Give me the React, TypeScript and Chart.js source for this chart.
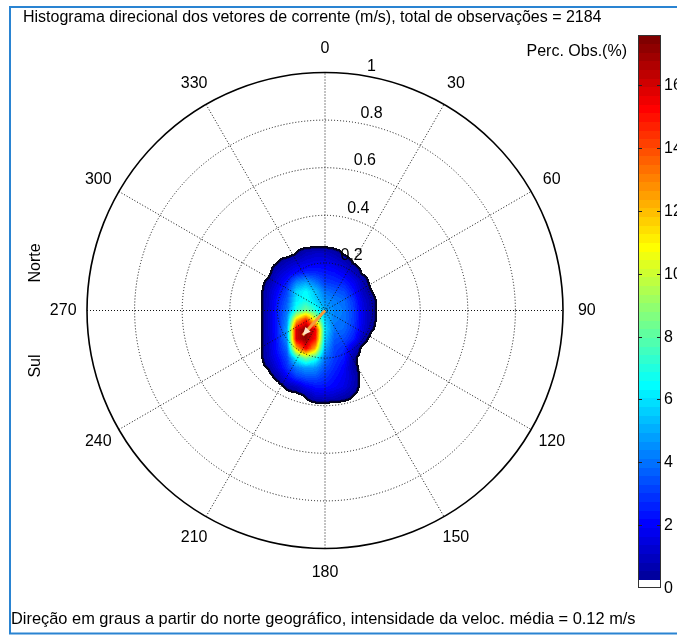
import React, { useEffect, useRef } from "react";
import { Chart, registerables } from "chart.js";

Chart.register(...registerables);

const TITLE = "Histograma direcional dos vetores de corrente (m/s), total de observações = 2184";
const FOOTER = "Direção em graus a partir do norte geográfico, intensidade da veloc. média = 0.12 m/s";
const SIDE_TOP = "Norte";
const SIDE_BOTTOM = "Sul";
const COLORBAR_TITLE = "Perc. Obs.(%)";

const ANGLE_DEGREES = [0, 30, 60, 90, 120, 150, 180, 210, 240, 270, 300, 330];
const ANGLE_LABELS = ["0", "30", "60", "90", "120", "150", "180", "210", "240", "270", "300", "330"];
const RING_VALUES = [0.2, 0.4, 0.6, 0.8, 1];
const RING_LABELS = ["0.2", "0.4", "0.6", "0.8", "1"];

// velocity grid (m/s): u = east component (columns), v = north component (rows)
const GRID_U = [-0.28, -0.24, -0.2, -0.16, -0.12, -0.08, -0.04, 0, 0.04, 0.08, 0.12, 0.16, 0.2, 0.24];
const GRID_V = [0.28, 0.24, 0.2, 0.16, 0.12, 0.08, 0.04, 0, -0.04, -0.08, -0.12, -0.16, -0.2, -0.24, -0.28, -0.32, -0.36, -0.4];
// percentage of observations per cell
const DENSITY = [
  [0, 0, 0, 0, 0, 0, 0, 0, 0, 0, 0, 0, 0, 0],
  [0, 0, 0, 0, 0.35, 0.9, 1.1, 1.1, 0.7, 0.25, 0, 0, 0, 0],
  [0, 0, 0.35, 0.9, 1.3, 1.6, 1.8, 1.8, 1.5, 1.0, 0.3, 0, 0, 0],
  [0, 0.1, 1.0, 1.6, 2.2, 2.6, 2.6, 2.4, 2.2, 1.8, 1.0, 0.2, 0, 0],
  [0, 0.5, 1.5, 2.4, 4.2, 4.8, 4.0, 3.0, 2.8, 2.5, 1.8, 0.8, 0, 0],
  [0, 0.9, 2.0, 3.2, 5.8, 6.5, 5.4, 4.0, 3.6, 3.3, 2.3, 1.0, 0.3, 0],
  [0, 1.0, 2.4, 3.6, 6.2, 6.8, 5.8, 4.6, 4.2, 3.9, 2.9, 1.4, 0.5, 0],
  [0, 1.0, 2.6, 4.0, 7.0, 8.5, 7.0, 5.0, 4.4, 4.1, 3.1, 1.6, 0.5, 0],
  [0, 1.0, 2.6, 4.4, 12.0, 15.0, 10.5, 5.5, 4.2, 4.0, 3.1, 1.6, 0.5, 0],
  [0, 1.0, 2.6, 4.8, 16.0, 17.6, 15.5, 6.0, 4.0, 3.8, 2.9, 1.5, 0.35, 0],
  [0, 1.0, 2.5, 4.5, 16.0, 17.2, 15.0, 5.5, 3.6, 3.3, 2.5, 0.7, 0, 0],
  [0, 1.0, 2.4, 3.8, 12.0, 15.5, 12.0, 4.8, 3.2, 2.8, 1.2, 0.1, 0, 0],
  [0, 0.9, 2.0, 3.2, 6.5, 8.5, 7.0, 4.0, 3.0, 2.4, 0.5, 0, 0, 0],
  [0, 0.4, 1.5, 2.8, 4.2, 4.8, 4.6, 3.4, 2.7, 2.0, 0.6, 0, 0, 0],
  [0, 0, 0.6, 1.9, 3.0, 3.4, 3.4, 2.9, 2.3, 1.8, 1.0, 0, 0, 0],
  [0, 0, 0, 0.5, 1.0, 1.9, 2.3, 2.3, 2.0, 1.6, 0.8, 0, 0, 0],
  [0, 0, 0, 0, 0, 0.4, 1.2, 1.3, 1.1, 0.7, 0.3, 0, 0, 0],
  [0, 0, 0, 0, 0, 0, 0, 0, 0, 0, 0, 0, 0, 0],
];

const MEAN_DIRECTION_DEG = 222;
const MEAN_ARROW_LENGTH = 0.14;

const CB_MAX = 17.6;
const CB_TICKS = [0, 2, 4, 6, 8, 10, 12, 14, 16];

const FONT = '"Liberation Sans", Arial, Helvetica, sans-serif';

function buildJet(): number[][] {
  const m = 64;
  const n = 16;
  const u: number[] = [];
  for (let i = 1; i <= n; i++) u.push(i / n);
  for (let i = 0; i < n - 1; i++) u.push(1);
  for (let i = n; i >= 1; i--) u.push(i / n);
  const J = Array.from({ length: m }, () => [0, 0, 0]);
  const g0 = Math.ceil(n / 2) - (m % 4 === 1 ? 1 : 0);
  for (let k = 0; k < u.length; k++) {
    const g = g0 + k + 1;
    const r = g + n;
    const b = g - n;
    if (r >= 1 && r <= m) J[r - 1][0] = u[k];
    if (g >= 1 && g <= m) J[g - 1][1] = u[k];
    if (b >= 1 && b <= m) J[b - 1][2] = u[k];
  }
  const out = J.map((c) => [Math.round(c[0] * 255), Math.round(c[1] * 255), Math.round(c[2] * 255)]);
  out[0] = [255, 255, 255];
  return out;
}
const JET = buildJet();

function sampleDensity(u: number, v: number): number {
  const du = GRID_U[1] - GRID_U[0];
  const dv = GRID_V[0] - GRID_V[1];
  const fi = (u - GRID_U[0]) / du;
  const fj = (GRID_V[0] - v) / dv;
  const nc = GRID_U.length;
  const nr = GRID_V.length;
  if (fi < 0 || fj < 0 || fi > nc - 1 || fj > nr - 1) return 0;
  const i0 = Math.min(nc - 2, Math.floor(fi));
  const j0 = Math.min(nr - 2, Math.floor(fj));
  const tx = fi - i0;
  const ty = fj - j0;
  const a = DENSITY[j0][i0];
  const b = DENSITY[j0][i0 + 1];
  const c = DENSITY[j0 + 1][i0];
  const d = DENSITY[j0 + 1][i0 + 1];
  return a * (1 - tx) * (1 - ty) + b * tx * (1 - ty) + c * (1 - tx) * ty + d * tx * ty;
}

const polarPlugin = {
  id: "polarRose",
  beforeDraw(chart: any) {
    const ctx = chart.ctx as CanvasRenderingContext2D;
    ctx.save();
    ctx.fillStyle = "#fff";
    ctx.fillRect(0, 0, chart.width, chart.height);

    // frame
    ctx.strokeStyle = "#2a84d2";
    ctx.lineWidth = 2;
    ctx.beginPath();
    ctx.moveTo(chart.width + 5, 7);
    ctx.lineTo(10, 7);
    ctx.lineTo(10, 633.5);
    ctx.lineTo(chart.width + 5, 633.5);
    ctx.stroke();

    ctx.fillStyle = "#000";
    ctx.font = `16px ${FONT}`;
    ctx.textBaseline = "middle";
    ctx.textAlign = "left";
    ctx.fillText(TITLE, 23, 18);
    ctx.font = `16.4px ${FONT}`;
    ctx.fillText(FOOTER, 11, 619);
    ctx.font = `16px ${FONT}`;

    // side labels
    ctx.textAlign = "center";
    ctx.save();
    ctx.translate(36, 263);
    ctx.rotate(-Math.PI / 2);
    ctx.fillText(SIDE_TOP, 0, 0);
    ctx.restore();
    ctx.save();
    ctx.translate(36, 366);
    ctx.rotate(-Math.PI / 2);
    ctx.fillText(SIDE_BOTTOM, 0, 0);
    ctx.restore();

    // colorbar
    const x0 = 638;
    const x1 = 661;
    const yTop = 35;
    const yBot = 588;
    const toY = (val: number) => yBot - (val / CB_MAX) * (yBot - yTop);
    for (let k = 0; k < 64; k++) {
      const c = JET[k];
      const ya = toY((k * CB_MAX) / 64);
      const yb = toY(((k + 1) * CB_MAX) / 64);
      ctx.fillStyle = `rgb(${c[0]},${c[1]},${c[2]})`;
      ctx.fillRect(x0, Math.floor(yb), x1 - x0, Math.ceil(ya) - Math.floor(yb));
    }
    ctx.strokeStyle = "#333";
    ctx.lineWidth = 1;
    ctx.strokeRect(x0 + 0.5, yTop + 0.5, x1 - x0 - 1, yBot - yTop - 1);
    ctx.fillStyle = "#000";
    ctx.textAlign = "left";
    for (const t of CB_TICKS) {
      const y = Math.round(toY(t)) + 0.5;
      if (t > 0) {
        ctx.strokeStyle = "#222";
        ctx.beginPath();
        ctx.moveTo(x0, y);
        ctx.lineTo(x0 + 4, y);
        ctx.moveTo(x1 - 4, y);
        ctx.lineTo(x1, y);
        ctx.stroke();
      }
      ctx.fillText(String(t), 664, y);
    }
    ctx.textAlign = "right";
    ctx.fillText(COLORBAR_TITLE, 627, 52);
    ctx.restore();
  },
  beforeDatasetsDraw(chart: any) {
    const ctx = chart.ctx as CanvasRenderingContext2D;
    const xs = chart.scales.x;
    const ys = chart.scales.y;
    const cx = xs.getPixelForValue(0);
    const cy = ys.getPixelForValue(0);
    const unit = xs.getPixelForValue(1) - cx;

    // heat map
    const px0 = Math.floor(xs.getPixelForValue(GRID_U[0])) - 2;
    const px1 = Math.ceil(xs.getPixelForValue(GRID_U[GRID_U.length - 1])) + 2;
    const py0 = Math.floor(ys.getPixelForValue(GRID_V[0])) - 2;
    const py1 = Math.ceil(ys.getPixelForValue(GRID_V[GRID_V.length - 1])) + 2;
    const w = px1 - px0 + 1;
    const h = py1 - py0 + 1;
    const vals = new Float32Array(w * h);
    const thr = CB_MAX / 64;
    const mask = new Uint8Array(w * h);
    for (let j = 0; j < h; j++) {
      const v = ys.getValueForPixel(py0 + j + 0.5);
      for (let i = 0; i < w; i++) {
        const u = xs.getValueForPixel(px0 + i + 0.5);
        const val = sampleDensity(u, v);
        vals[j * w + i] = val;
        mask[j * w + i] = val >= thr ? 1 : 0;
      }
    }
    const off = document.createElement("canvas");
    off.width = w;
    off.height = h;
    const octx = off.getContext("2d")!;
    const img = octx.createImageData(w, h);
    const isOut = (i: number, j: number) => i < 0 || j < 0 || i >= w || j >= h || mask[j * w + i] === 0;
    for (let j = 0; j < h; j++) {
      for (let i = 0; i < w; i++) {
        const idx = j * w + i;
        if (!mask[idx]) continue;
        let dist = 99;
        for (let dj = -3; dj <= 3; dj++) {
          for (let di = -3; di <= 3; di++) {
            if (di === 0 && dj === 0) continue;
            if (isOut(i + di, j + dj)) {
              const d = Math.hypot(di, dj);
              if (d < dist) dist = d;
            }
          }
        }
        const k = Math.max(1, Math.min(63, Math.floor((vals[idx] / CB_MAX) * 64)));
        let c = JET[k];
        if (dist <= 1.5) c = [5, 5, 25];
        else if (dist <= 2.3) c = [0, 0, 50];
        else if (dist <= 3.1) c = [0, 0, Math.round((c[2] + 90) / 2)];
        const p = idx * 4;
        img.data[p] = c[0];
        img.data[p + 1] = c[1];
        img.data[p + 2] = c[2];
        img.data[p + 3] = 255;
      }
    }
    octx.putImageData(img, 0, 0);
    ctx.drawImage(off, px0, py0);

    ctx.save();
    // dotted rings & spokes
    ctx.strokeStyle = "#111";
    ctx.lineWidth = 1;
    ctx.setLineDash([1, 2]);
    for (const r of RING_VALUES) {
      if (r >= 1) continue;
      ctx.beginPath();
      ctx.arc(cx, cy, r * unit, 0, Math.PI * 2);
      ctx.stroke();
    }
    for (const a of ANGLE_DEGREES) {
      if (a >= 180) continue;
      const rad = (a * Math.PI) / 180;
      const ex = Math.sin(rad) * unit;
      const ey = -Math.cos(rad) * unit;
      ctx.beginPath();
      ctx.moveTo(cx - ex, cy - ey);
      ctx.lineTo(cx + ex, cy + ey);
      ctx.stroke();
    }
    ctx.setLineDash([]);
    ctx.strokeStyle = "#000";
    ctx.lineWidth = 1.6;
    ctx.beginPath();
    ctx.arc(cx, cy, 1 * unit, 0, Math.PI * 2);
    ctx.stroke();

    // labels
    ctx.fillStyle = "#000";
    ctx.font = `16px ${FONT}`;
    ctx.textAlign = "center";
    ctx.textBaseline = "middle";
    ANGLE_DEGREES.forEach((a, i) => {
      const rad = (a * Math.PI) / 180;
      ctx.fillText(ANGLE_LABELS[i], cx + Math.sin(rad) * 1.1 * unit, cy - Math.cos(rad) * 1.1 * unit);
    });
    ctx.textAlign = "left";
    ctx.textBaseline = "bottom";
    const lr = (8 * Math.PI) / 180;
    RING_VALUES.forEach((r, i) => {
      ctx.fillText("  " + RING_LABELS[i], cx + Math.sin(lr) * r * unit, cy - Math.cos(lr) * r * unit);
    });
    ctx.restore();
  },
  afterDatasetsDraw(chart: any) {
    const ctx = chart.ctx as CanvasRenderingContext2D;
    const meta = chart.getDatasetMeta(0);
    if (!meta || meta.data.length < 2) return;
    const p0 = meta.data[0];
    const p1 = meta.data[1];
    const ang = Math.atan2(p1.y - p0.y, p1.x - p0.x);
    const L = 8;
    const W = 3.5;
    ctx.save();
    ctx.fillStyle = "#ffe2c4";
    ctx.beginPath();
    ctx.moveTo(p1.x, p1.y);
    ctx.lineTo(p1.x - L * Math.cos(ang) + W * Math.sin(ang), p1.y - L * Math.sin(ang) - W * Math.cos(ang));
    ctx.lineTo(p1.x - L * Math.cos(ang) - W * Math.sin(ang), p1.y - L * Math.sin(ang) + W * Math.cos(ang));
    ctx.closePath();
    ctx.fill();
    ctx.restore();
  },
};

export default function App() {
  const ref = useRef<HTMLCanvasElement | null>(null);
  useEffect(() => {
    if (!ref.current) return;
    const dirRad = (MEAN_DIRECTION_DEG * Math.PI) / 180;
    const chart = new Chart(ref.current, {
      type: "scatter",
      data: {
        datasets: [
          {
            data: [
              { x: 0, y: 0 },
              { x: MEAN_ARROW_LENGTH * Math.sin(dirRad), y: MEAN_ARROW_LENGTH * Math.cos(dirRad) },
            ],
            showLine: true,
            borderColor: "#f59a3c",
            borderWidth: 3,
            pointRadius: 0,
            pointHoverRadius: 0,
          },
        ],
      },
      options: {
        responsive: false,
        animation: false,
        events: [],
        layout: { padding: { left: 39.4, right: 66.4, top: 24.9, bottom: 38.9 } },
        scales: {
          x: { type: "linear", min: -1.2, max: 1.2, display: false },
          y: { type: "linear", min: -1.2, max: 1.2, display: false },
        },
        plugins: { legend: { display: false }, tooltip: { enabled: false } },
      },
      plugins: [polarPlugin],
    });
    return () => chart.destroy();
  }, []);
  return (
    <div style={{ position: "fixed", left: 0, top: 0, width: 677, height: 635 }}>
      <canvas ref={ref} width={677} height={635} style={{ display: "block" }} />
    </div>
  );
}
